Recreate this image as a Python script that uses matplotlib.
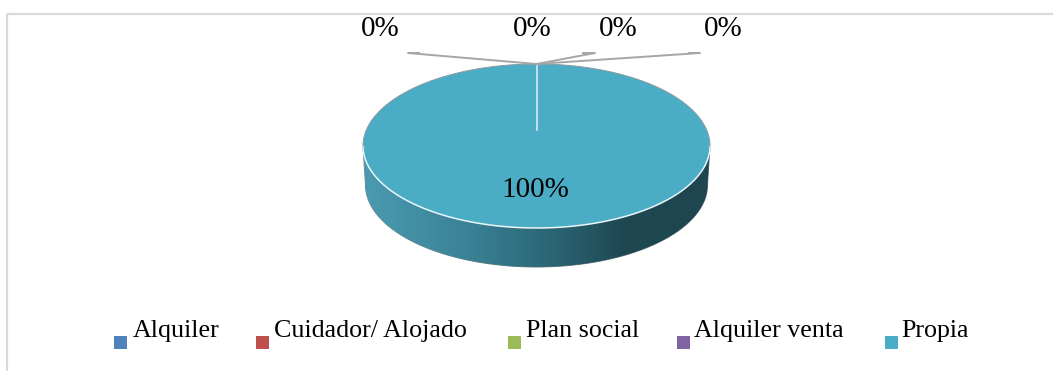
import numpy as np
import matplotlib
matplotlib.use("Agg")
import matplotlib.pyplot as plt
from matplotlib.patches import Polygon, Rectangle
from matplotlib.colors import LinearSegmentedColormap

plt.rcParams['font.family'] = ['Liberation Serif', 'DejaVu Serif']

# datos
categorias = ['Alquiler', 'Cuidador/ Alojado', 'Plan social', 'Alquiler venta', 'Propia']
valores = [0, 0, 0, 0, 100]
colores = ['#4F81BD', '#C0504D', '#9BBB59', '#8064A2', '#4BACC6']

# geometria del pastel (pixeles)
cx, cy = 536.5, 146
a, b = 173.5, 82
prof = 39
cy_persp = 130  # centro aparente por la perspectiva

# posicion de etiquetas de 0% y sus guias
lab0_x = [380.5, 532, 618.5, 723.5]
lab0_guia = [(408, 419), None, (595, 583), (700, 689)]
leg_sq_x = [114, 256, 508, 677, 885]
leg_txt_x = [133, 274, 526, 694, 901]

fig = plt.figure(figsize=(10.53, 3.71), dpi=100)
ax = fig.add_axes([0, 0, 1, 1])
ax.set_xlim(0, 1053)
ax.set_ylim(371, 0)
ax.axis('off')

# marco
ax.plot([7, 1053], [14, 14], color='#D9D9D9', lw=1.6, solid_capstyle='butt')
ax.plot([7, 7], [14, 371], color='#D9D9D9', lw=1.6, solid_capstyle='butt')


def punto(theta, yc=cy, aa=a):
    return cx + aa * np.cos(theta), yc - b * np.sin(theta)


# lateral con degradado
t = np.linspace(np.pi, 2 * np.pi, 200)
xs1, ys1 = punto(t)
xs2, ys2 = punto(t[::-1], cy + prof, a - 2.5)
lado = np.column_stack([np.r_[xs1, xs2], np.r_[ys1, ys2]])
poly_lado = Polygon(lado, closed=True, facecolor='none', edgecolor='#6d7d80', lw=0.7)
ax.add_patch(poly_lado)
cmap = LinearSegmentedColormap.from_list('lado', [
    (0.0, '#4A9BB1'), (0.3, '#3A8296'), (0.55, '#2A6573'),
    (0.75, '#1F4852'), (1.0, '#1E4550')])
grad = np.linspace(0, 1, 256).reshape(1, -1)
im = ax.imshow(grad, cmap=cmap, aspect='auto',
               extent=[cx - a, cx + a, cy + prof + b + 2, cy - 2], zorder=1)
im.set_clip_path(poly_lado)

# cara superior: porciones desde las 12 en sentido horario
total = sum(valores)
acum = 0
for v, c in zip(valores, colores):
    ini = np.pi / 2 - 2 * np.pi * acum / total
    fin = np.pi / 2 - 2 * np.pi * (acum + v) / total
    acum += v
    if v == 0:
        continue
    tt = np.linspace(ini, fin, 400)
    px, py = punto(tt)
    ax.add_patch(Polygon(np.column_stack([px, py]), closed=True,
                         facecolor=c, edgecolor='none', zorder=2))
    # borde de la porcion
    ex, ey = punto(ini)
    ax.plot([cx, ex], [cy_persp, ey], color='#D5EBF1', lw=1.2, zorder=3)

# bordes de la cara superior
tf = np.linspace(np.pi, 2 * np.pi, 200)
fx, fy = punto(tf)
ax.plot(fx, fy, color='#EAF6F9', lw=1.1, zorder=3)
tb = np.linspace(0, np.pi, 200)
bx, by = punto(tb)
ax.plot(bx, by, color='#8a9a9e', lw=0.7, zorder=3)

# etiquetas
tx, ty = punto(np.pi / 2)
i0 = 0
for v in valores:
    if v == 0:
        ax.text(lab0_x[i0], 36, f'{v:.0f}%', fontsize=21, ha='center', va='baseline')
        g = lab0_guia[i0]
        if g is not None:
            ax.plot([g[1], g[0], tx], [53, 53, ty], color='#A6A6A6', lw=1.4,
                    zorder=4, solid_joinstyle='round')
        i0 += 1
    else:
        ax.text(535.5, 197, f'{v:.0f}%', fontsize=21, ha='center', va='baseline', zorder=5)

# leyenda
for nom, c, sx, txx in zip(categorias, colores, leg_sq_x, leg_txt_x):
    ax.add_patch(Rectangle((sx, 336), 13, 13, facecolor=c, edgecolor='none'))
    ax.text(txx, 337, nom, fontsize=18.7, ha='left', va='baseline')

fig.savefig('out.png', dpi=100)
